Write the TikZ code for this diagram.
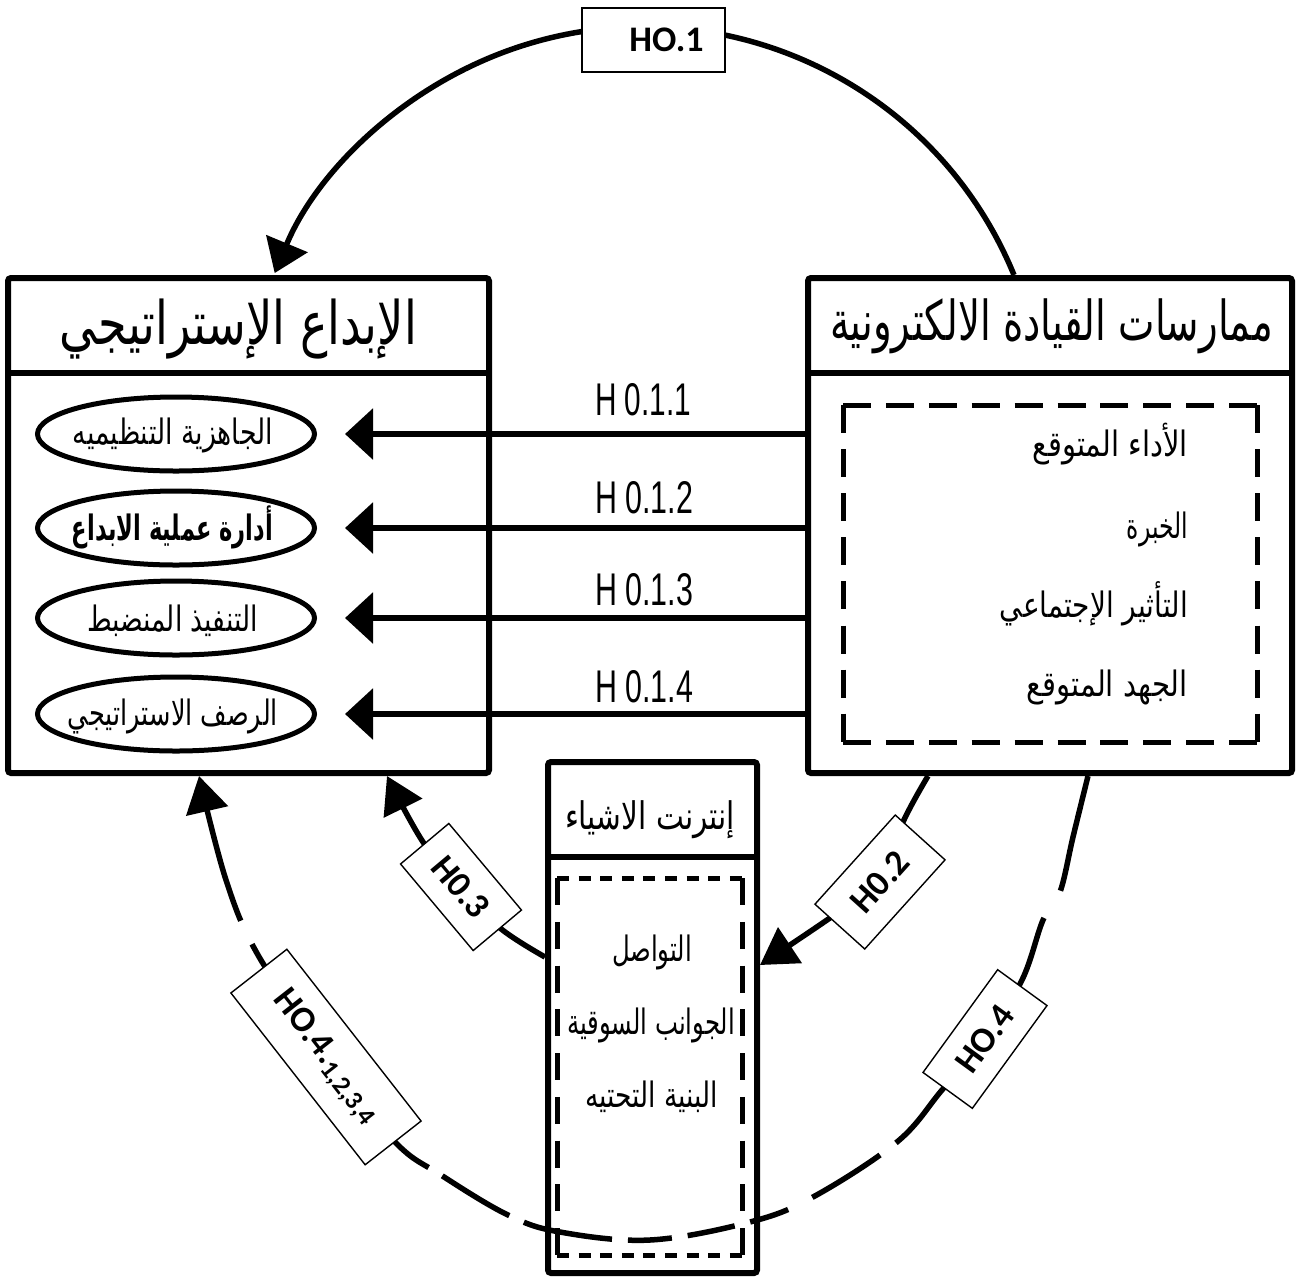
\documentclass[tikz,border=0pt]{standalone}
\usepackage{fontspec}
\usepackage{graphicx}
\usetikzlibrary{arrows.meta,shapes.geometric}
\TeXXeTstate=1
\setmainfont{Liberation Sans}
\newfontfamily\arabicfont[Script=Arabic]{DejaVu Sans}
\newfontfamily\tagfont{Carlito}
% Arabic text at a given size, stretched to a given width (height kept)
\newcommand\fitw[3]{\resizebox{#1pt}{\height}{\fontsize{#2}{#2}\selectfont\arabicfont #3}}
% hypothesis labels on the horizontal arrows (condensed look)
\newcommand\hypo[2]{\resizebox{#1pt}{32pt}{#2}}

\tikzset{
  panel/.style={draw, line width=6pt, rounded corners=3pt, inner sep=0pt},
  rule/.style={line width=6pt},
  oval/.style={ellipse, draw, line width=5pt, minimum width=277pt, minimum height=74pt, inner sep=0pt},
  txt/.style={inner sep=0pt, anchor=base},
  flow/.style={line width=5.5pt},
  harrow/.style={line width=6pt, -{Triangle[length=28pt,width=50pt]}},
  carrow/.style={flow, -{Triangle[length=36pt,width=42pt]}},
  tag/.style={draw, line width=1.4pt, fill=white, inner sep=0pt,
    font=\tagfont\bfseries\fontsize{36}{40}\selectfont},
  sdash/.style={line width=5pt}
}

\begin{document}
\begin{tikzpicture}[x=1pt,y=-1pt]
\useasboundingbox (0,0) rectangle (1296,1278);
\fill[white] (0,0) rectangle (1296,1278);

% ---------- left panel: strategic creativity ----------
\node[panel, minimum width=481pt, minimum height=495pt] (LB) at (248.5,525.5) {};
\draw[rule] (LB.west |- 0,373) -- (LB.east |- 0,373);
\node[txt] (LBt) at (238.5,344) {\fitw{357}{60}{\beginR الإبداع الإستراتيجي\endR}};

\node[oval] (e1) at (176,434) {};
\node[oval] (e2) at (176,528) {};
\node[oval] (e3) at (176,618) {};
\node[oval] (e4) at (176,714) {};
\node[txt] (e1t) at (173,444) {\fitw{200}{35}{\beginR الجاهزية التنظيميه\endR}};
\node[txt] (e2t) at (172.5,540) {\fitw{201}{35}{\bfseries\beginR أدارة عملية الابداع\endR}};
\node[txt] (e3t) at (172.5,631) {\fitw{171}{35}{\beginR التنفيذ المنضبط\endR}};
\node[txt] (e4t) at (173,725) {\fitw{210}{35}{\beginR الرصف الاستراتيجي\endR}};

% ---------- right panel: e-leadership practices ----------
\node[panel, minimum width=484pt, minimum height=495pt] (RB) at (1050,525.5) {};
\draw[rule] (RB.west |- 0,373) -- (RB.east |- 0,373);
\node[txt] (RBt) at (1051.5,340) {\fitw{443}{55}{\beginR ممارسات القيادة الالكترونية\endR}};

\draw[sdash, dash pattern=on 28pt off 14.9pt] (843,405) -- (1257,405);
\draw[sdash, dash pattern=on 28pt off 14.9pt] (843,742) -- (1257,742);
\draw[sdash, dash pattern=on 28pt off 16.1pt] (843,405) -- (843,742);
\draw[sdash, dash pattern=on 28pt off 16.1pt] (1257,405) -- (1257,742);

\node[txt, anchor=base east] (r1) at (1188,456) {\fitw{155}{35}{\beginR الأداء المتوقع\endR}};
\node[txt, anchor=base east] (r2) at (1188,538) {\fitw{61}{35}{\beginR الخبرة\endR}};
\node[txt, anchor=base east] (r3) at (1188,617) {\fitw{188}{35}{\beginR التأثير الإجتماعي\endR}};
\node[txt, anchor=base east] (r4) at (1188,696) {\fitw{161}{35}{\beginR الجهد المتوقع\endR}};

% ---------- middle panel: internet of things ----------
\node[panel, minimum width=209pt, minimum height=511pt] (MB) at (652.5,1017.5) {};
\draw[rule] (MB.west |- 0,857) -- (MB.east |- 0,857);
\node[txt] (MBt) at (650,829) {\fitw{170}{38}{\beginR إنترنت الاشياء\endR}};

\draw[sdash, dash pattern=on 12pt off 9.6pt] (557,878) -- (742,878);
\draw[sdash, dash pattern=on 12pt off 9.6pt] (557,1255) -- (742,1255);
\draw[sdash, dash pattern=on 27pt off 16.75pt] (557,878) -- (557,1255);
\draw[sdash, dash pattern=on 27pt off 16.75pt] (742,878) -- (742,1255);

\node[txt] (m1) at (652,961) {\fitw{80}{35}{\beginR التواصل\endR}};
\node[txt] (m2) at (651,1034) {\fitw{168}{35}{\beginR الجوانب السوقية\endR}};
\node[txt] (m3) at (651.5,1107) {\fitw{133}{35}{\beginR البنية التحتيه\endR}};

% ---------- sub-hypotheses H0.1.x ----------
\draw[harrow] (RB.west |- e1) -- ([xshift=28pt]e1.east);
\draw[harrow] (RB.west |- e2) -- ([xshift=28pt]e2.east);
\draw[harrow] (RB.west |- e3) -- ([xshift=28pt]e3.east);
\draw[harrow] (RB.west |- e4) -- ([xshift=28pt]e4.east);
\node[inner sep=0pt, anchor=west] (h1) at (595,400) {\hypo{96}{H 0.1.1}};
\node[inner sep=0pt, anchor=west] (h2) at (595,498) {\hypo{98}{H 0.1.2}};
\node[inner sep=0pt, anchor=west] (h3) at (595,590) {\hypo{98}{H 0.1.3}};
\node[inner sep=0pt, anchor=west] (h4) at (595,687) {\hypo{98}{H 0.1.4}};

% ---------- label positions on the curved connectors ----------
\coordinate (c1) at (653.5,40);
\coordinate (c2) at (880,882);
\coordinate (c3) at (461,887);
\coordinate (c4) at (985,1039);
\coordinate (c41) at (326,1057);

% HO.1 : e-leadership -> strategic creativity
\coordinate (a1) at (RB.north -| 1014,0);
\draw[flow, -{Triangle[length=32pt,width=44pt]}] (a1) arc[start angle=-22.3, end angle=-157.4, radius=400];

% H0.2 : e-leadership -> internet of things
\coordinate (a2) at (RB.south -| 928,0);
\coordinate (b2) at (MB.east |- 0,965);
\draw[carrow] plot[smooth, tension=0.6] coordinates {(a2) (903,822) (c2) (827,920) (b2)};

% H0.3 : internet of things -> strategic creativity
\coordinate (a3) at (MB.west |- 0,957);
\coordinate (b3) at (LB.south -| 387,0);
\draw[carrow] plot[smooth, tension=0.6] coordinates {(a3) (500,928) (c3) (423,842) (b3)};

% HO.4 : mediated path, dashed loop under the panels
\coordinate (a4) at (RB.south -| 1088,0);
\coordinate (b4) at (LB.south -| 199,0);
\draw[flow, dash pattern=on 118pt off 32pt on 400pt]
  plot[smooth, tension=0.6] coordinates {(a4) (1073,837) (1060,892) (1043,920) (1022,980) (c4)};
\draw[flow, dash pattern=on 137pt off 20pt on 80pt off 27pt on 40pt off 16pt on 48pt off 16pt on 44pt off 16pt on 90pt off 16pt on 78pt off 16pt on 400pt]
  plot[smooth, tension=0.6] coordinates {(c4) (942,1090) (897,1142) (813,1197) (750,1222) (650,1240) (560,1232) (508,1215) (441,1175) (395,1142) (c41)};
\draw[carrow, dash pattern=on 135pt off 26pt on 300pt]
  plot[smooth, tension=0.6] coordinates {(c41) (258,955) (226,880) (b4)};

% ---------- hypothesis tags ----------
\node[tag, minimum width=143pt, minimum height=64pt] (t1) at (c1) {\hspace*{26pt}HO.1};
\node[tag, minimum width=120pt, minimum height=67pt, rotate=48] (t2) at (c2) {H0.2};
\node[tag, minimum width=113pt, minimum height=63pt, rotate=-50] (t3) at (c3) {H0.3};
\node[tag, minimum width=127pt, minimum height=61pt, rotate=54] (t4) at (c4) {HO.4};
\node[tag, minimum width=218pt, minimum height=71pt, rotate=-52] (t41) at (c41)
  {HO.4.\raisebox{-6pt}{\fontsize{26}{26}\selectfont 1,2,3,4}};
\end{tikzpicture}
\end{document}
